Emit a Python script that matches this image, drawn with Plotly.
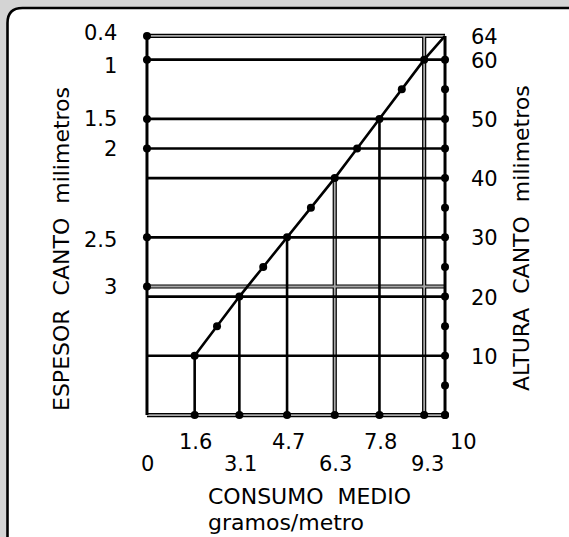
import plotly.graph_objects as go

W, H = 569, 537

# ---------------- data ----------------
consumo_ticks = [1.6, 3.1, 4.7, 6.3, 7.8, 9.3, 10]
consumo_top_labels = ["1.6", "4.7", "7.8", "10"]
consumo_top_x = [1.6, 4.7, 7.8, 10]
consumo_bot_labels = ["0", "3.1", "6.3", "9.3"]
consumo_bot_x = [0, 3.1, 6.3, 9.3]

altura_dots = [0, 5, 10, 15, 20, 25, 30, 35, 40, 45, 50, 55, 60]
altura_labels = ["64", "60", "50", "40", "30", "20", "10"]
altura_label_vals = [64, 60, 50, 40, 30, 20, 10]

espesor_labels = ["0.4", "1", "1.5", "2", "2.5", "3"]
espesor_alt = [64, 60, 50, 45, 30, 21.7]

diag_x = [1.6, 2.35, 3.1, 3.9, 4.7, 5.5, 6.3, 7.05, 7.8, 8.55, 9.3, 10]
diag_y = [10, 15, 20, 25, 30, 35, 40, 45, 50, 55, 60, 64]

vert_x = [1.6, 3.1, 4.7, 6.3, 7.8, 9.3]
vert_top = [10, 20, 30, 40, 50, 64]
vert_double = [False, False, False, True, False, True]

horiz_y = [64, 60, 50, 45, 40, 30, 21.7, 20, 10, 0]
horiz_double = [True, False, False, False, False, False, True, False, False, True]

X0, X1 = 0, 10
Y0, Y1 = 0, 64

# ---------------- layout geometry ----------------
ML, MR, MT, MB = 144, 121, 33, 119
XR = [-0.1, 10.1]
YR = [-0.5, 64.5]
PW, PH = W - ML - MR, H - MT - MB


def px2paper_x(px):
    return (px - ML) / PW


def px2paper_y(py):
    return (H - MB - py) / PH


FONT = "DejaVu Sans"

fig = go.Figure()

single_x, single_y, dbl_x, dbl_y = [], [], [], []
for yv, d in zip(horiz_y, horiz_double):
    tx, ty = (dbl_x, dbl_y) if d else (single_x, single_y)
    tx += [X0, X1, None]
    ty += [yv, yv, None]
for xv, top, d in zip(vert_x, vert_top, vert_double):
    tx, ty = (dbl_x, dbl_y) if d else (single_x, single_y)
    tx += [xv, xv, None]
    ty += [Y0, top, None]

fig.add_trace(go.Scatter(x=dbl_x, y=dbl_y, mode="lines",
                         line=dict(color="black", width=4.2), hoverinfo="skip"))
fig.add_trace(go.Scatter(x=dbl_x, y=dbl_y, mode="lines",
                         line=dict(color="#a8a8a8", width=1.8), hoverinfo="skip"))
fig.add_trace(go.Scatter(x=single_x, y=single_y, mode="lines",
                         line=dict(color="black", width=2.6), hoverinfo="skip"))
# axes
fig.add_trace(go.Scatter(x=[X0, X0, None, X1, X1], y=[Y0, Y1, None, Y0, Y1], mode="lines",
                         line=dict(color="black", width=3), hoverinfo="skip"))
# diagonal
fig.add_trace(go.Scatter(x=diag_x, y=diag_y, mode="lines",
                         line=dict(color="black", width=2.6), hoverinfo="skip"))

# dots
dot_x = diag_x[:-1] + [X0] * len(espesor_alt) + [X1] * len(altura_dots) + consumo_ticks
dot_y = diag_y[:-1] + espesor_alt + altura_dots + [Y0] * len(consumo_ticks)
fig.add_trace(go.Scatter(x=dot_x, y=dot_y, mode="markers",
                         marker=dict(color="black", size=8, line=dict(width=0)),
                         cliponaxis=False, hoverinfo="skip"))

ann = []
left_shift = {"0.4": 3, "1": -6, "2.5": -3}
for t, v in zip(espesor_labels, espesor_alt):
    ann.append(dict(x=X0, y=v, xref="x", yref="y", text=t, showarrow=False,
                    xanchor="right", yanchor="middle", xshift=-28,
                    yshift=left_shift.get(t, 0), font=dict(size=21)))
for t, v in zip(altura_labels, altura_label_vals):
    ann.append(dict(x=X1, y=v, xref="x", yref="y", text=t, showarrow=False,
                    xanchor="left", yanchor="middle", xshift=24, yshift=-1,
                    font=dict(size=21)))
for t, v in zip(consumo_top_labels, consumo_top_x):
    ann.append(dict(x=v, y=Y0, xref="x", yref="y", text=t, showarrow=False,
                    xanchor="center", yanchor="middle", yshift=-27,
                    xshift=18 if t == "10" else 1, font=dict(size=21)))
for t, v in zip(consumo_bot_labels, consumo_bot_x):
    ann.append(dict(x=v, y=Y0, xref="x", yref="y", text=t, showarrow=False,
                    xanchor="center", yanchor="middle", yshift=-49,
                    xshift=3 if t == "9.3" else 1, font=dict(size=21)))

ann.append(dict(x=px2paper_x(61), y=px2paper_y(249), xref="paper", yref="paper",
                text="ESPESOR\u00a0\u00a0CANTO\u00a0\u00a0milimetros", textangle=-90,
                showarrow=False, xanchor="center", yanchor="middle", font=dict(size=22)))
ann.append(dict(x=px2paper_x(521), y=px2paper_y(238), xref="paper", yref="paper",
                text="ALTURA\u00a0\u00a0CANTO\u00a0\u00a0milimetros", textangle=-90,
                showarrow=False, xanchor="center", yanchor="middle", font=dict(size=22)))
ann.append(dict(x=px2paper_x(206), y=px2paper_y(496), xref="paper", yref="paper",
                text="CONSUMO\u00a0\u00a0MEDIO", showarrow=False,
                xanchor="left", yanchor="middle", font=dict(size=22)))
ann.append(dict(x=px2paper_x(206), y=px2paper_y(522), xref="paper", yref="paper",
                text="gramos/metro", showarrow=False,
                xanchor="left", yanchor="middle", font=dict(size=22)))

# frame (rounded rectangle)
fl, ft, fr, fb, rr = 7.5, 8, 583, 565, 15
path = (f"M {px2paper_x(fl)},{px2paper_y(fb)} "
        f"L {px2paper_x(fl)},{px2paper_y(ft + rr)} "
        f"Q {px2paper_x(fl)},{px2paper_y(ft)} {px2paper_x(fl + rr)},{px2paper_y(ft)} "
        f"L {px2paper_x(fr - rr)},{px2paper_y(ft)} "
        f"Q {px2paper_x(fr)},{px2paper_y(ft)} {px2paper_x(fr)},{px2paper_y(ft + rr)} "
        f"L {px2paper_x(fr)},{px2paper_y(fb)} Z")
shapes = [dict(type="path", path=path, xref="paper", yref="paper",
               fillcolor="white", line=dict(color="black", width=2.6), layer="below")]

fig.update_layout(
    width=W, height=H,
    margin=dict(l=ML, r=MR, t=MT, b=MB, pad=0),
    paper_bgcolor="#d4d4d4",
    plot_bgcolor="rgba(0,0,0,0)",
    showlegend=False,
    font=dict(family=FONT, color="black"),
    xaxis=dict(range=XR, visible=False, fixedrange=True),
    yaxis=dict(range=YR, visible=False, fixedrange=True),
    annotations=ann,
    shapes=shapes,
)

fig.write_html("out.html", config={"displayModeBar": False},
               post_script="document.body.style.margin='0';document.body.style.overflow='hidden';")
